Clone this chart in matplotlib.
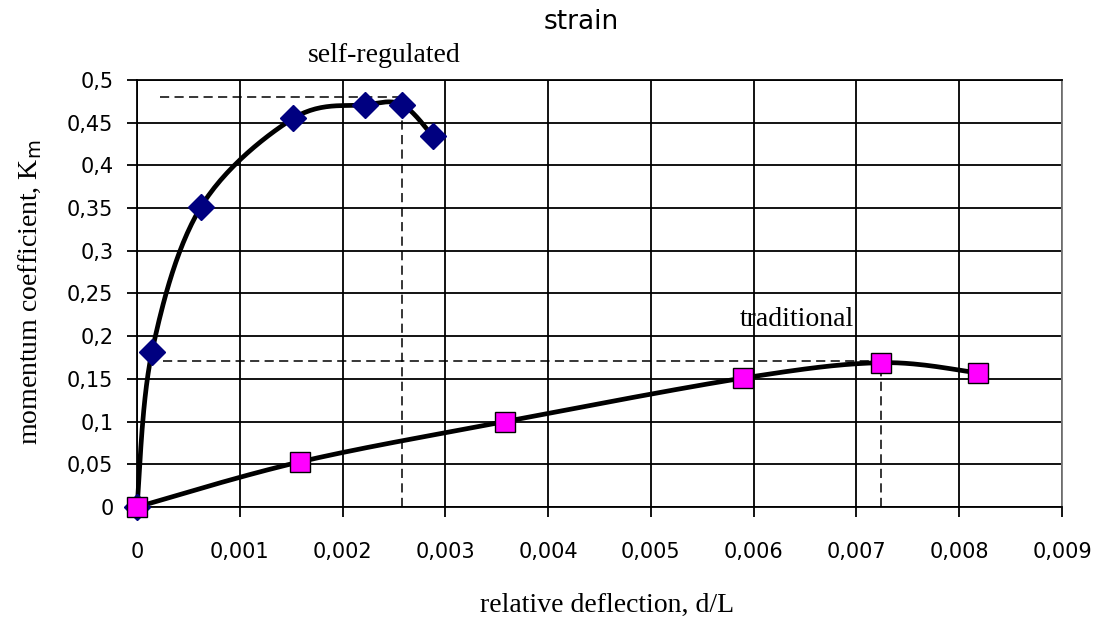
import numpy as np
import matplotlib
matplotlib.use("Agg")
import matplotlib.pyplot as plt
from matplotlib.ticker import MultipleLocator, FuncFormatter

# data
self_x = [0.0, 0.000146, 0.00062, 0.00152, 0.00222, 0.00258, 0.00288]
self_y = [0.0, 0.182, 0.351, 0.455, 0.471, 0.471, 0.434]
trad_x = [0.0, 0.00159, 0.00358, 0.0059, 0.00724, 0.00818]
trad_y = [0.0, 0.053, 0.100, 0.151, 0.169, 0.157]

# dashed helper lines (peak markers)
self_peak = (0.00258, 0.480, 0.00022)   # x, y, start of horizontal
trad_peak = (0.00724, 0.171, 0.00025)

XMAX, YMAX = 0.009, 0.5


def smooth(xs, ys, n=30):
    # Catmull-Rom style smoothing done in screen-like units (like Excel)
    sx, sy = 925 / XMAX, 427 / YMAX
    p = np.column_stack([np.array(xs) * sx, np.array(ys) * sy])
    p = np.vstack([p[0], p, p[-1]])
    out = []
    for i in range(1, len(p) - 2):
        p0, p1, p2, p3 = p[i - 1], p[i], p[i + 1], p[i + 2]
        t = np.linspace(0, 1, n)[:, None]
        c = 0.5 * ((2 * p1) + (-p0 + p2) * t + (2 * p0 - 5 * p1 + 4 * p2 - p3) * t ** 2
                   + (-p0 + 3 * p1 - 3 * p2 + p3) * t ** 3)
        out.append(c)
    c = np.vstack(out)
    return c[:, 0] / sx, c[:, 1] / sy


fig = plt.figure(figsize=(10.97, 6.26), dpi=100)
ax = fig.add_axes([137 / 1097, 1 - 507 / 626, (1062 - 137) / 1097, (507 - 80) / 626])

ax.set_xlim(0, XMAX)
ax.set_ylim(0, YMAX)
ax.xaxis.set_major_locator(MultipleLocator(0.001))
ax.yaxis.set_major_locator(MultipleLocator(0.05))

def comma(v, pos):
    s = ("%.3f" % v).rstrip("0").rstrip(".") if abs(v) > 1e-12 else "0"
    return s.replace(".", ",")

ax.xaxis.set_major_formatter(FuncFormatter(comma))
ax.yaxis.set_major_formatter(FuncFormatter(comma))
ax.grid(True, color="black", linewidth=1.3)
ax.set_axisbelow(True)
for s in ax.spines.values():
    s.set_color("black")
    s.set_linewidth(1.3)
ax.spines["right"].set_color("#777777")
ax.tick_params(axis="both", direction="out", length=7, width=1.3,
               labelsize=15, colors="black")
ax.tick_params(axis="y", pad=10)
ax.tick_params(axis="x", pad=18)
for lab in ax.get_xticklabels() + ax.get_yticklabels():
    lab.set_family("DejaVu Sans")

# dashed lines
for px, py, x0 in (self_peak, trad_peak):
    ax.plot([x0, px], [py, py], color="black", lw=1.1, ls=(0, (6, 3.5)), zorder=2)
    ax.plot([px, px], [0, py], color="black", lw=1.1, ls=(0, (6, 3.5)), zorder=2)

sx, sy = smooth(self_x, self_y)
ax.plot(sx, sy, color="black", lw=3.4, zorder=3, clip_on=False)
tx, ty = smooth(trad_x, trad_y)
ax.plot(tx, ty, color="black", lw=3.4, zorder=3, clip_on=False)

ax.plot(self_x, self_y, ls="none", marker="D", ms=13, mfc="#000080", mec="#000080",
        zorder=4, clip_on=False)
ax.plot(trad_x, trad_y, ls="none", marker="s", ms=14, mfc="#ff00ff", mec="black",
        mew=1, zorder=5, clip_on=False)

ax.text(0.00241, 0.529, "self-regulated", family="Liberation Serif", fontsize=20,
        ha="center", va="center", clip_on=False)
ax.text(0.00642, 0.219, "traditional", family="Liberation Serif", fontsize=20,
        ha="center", va="center")

fig.text(581 / 1097, 1 - 22 / 626, "strain", family="DejaVu Sans", fontsize=19,
         ha="center", va="center")
fig.text(607 / 1097, 1 - 605 / 626, "relative deflection, d/L", family="Liberation Serif",
         fontsize=20, ha="center", va="center")
fig.text(30 / 1097, 1 - 292 / 626, r"momentum coefficient, K$_\mathrm{m}$",
         family="Liberation Serif", fontsize=20, ha="center", va="center", rotation=90)

fig.savefig("out.png", dpi=100)
